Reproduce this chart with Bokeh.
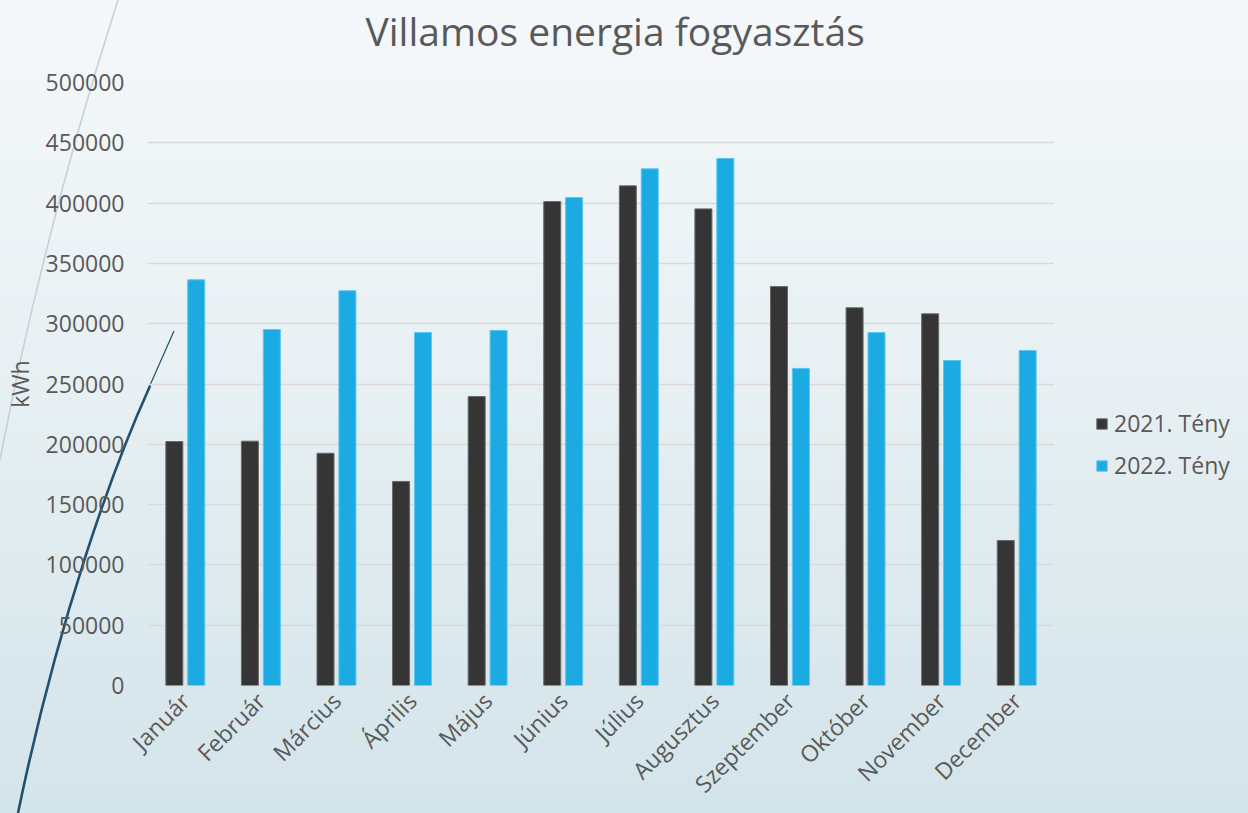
import math
import base64
from bokeh.plotting import figure
from bokeh.layouts import row
from bokeh.models import (ColumnDataSource, Range1d, FixedTicker, NumeralTickFormatter,
                          Legend, LegendItem, Title)
from bokeh.transform import dodge
from bokeh.embed import file_html
from bokeh.resources import INLINE

# ---- data ----
months = ["Január", "Február", "Március", "Április", "Május", "Június",
          "Július", "Augusztus", "Szeptember", "Október", "November", "December"]
teny_2021 = [202300, 202600, 192600, 169200, 239600, 401300,
             414300, 395200, 330800, 313200, 308200, 120200]
teny_2022 = [336400, 295200, 327300, 292700, 294400, 404600,
             428400, 437000, 262900, 292700, 269500, 277800]
series_names = ["2021. Tény", "2022. Tény"]
y_ticks = [0, 50000, 100000, 150000, 200000, 250000,
           300000, 350000, 400000, 450000, 500000]
title_text = "Villamos energia fogyasztás"
y_label = "kWh"

FONT = "Open Sans"
TXT = "#595959"
DARK = "#353535"
BLUE = "#1caae2"
DARK_EDGE = "#6a6a6a"
BLUE_EDGE = "#5ec5ee"
GRADIENT = "linear-gradient(to bottom, #f5f8fa 0%, #e8f0f3 45%, #d3e4ea 100%)"

src = ColumnDataSource(dict(month=months, a=teny_2021, b=teny_2022))

# ---------------- main chart ----------------
p = figure(width=1054, height=813, x_range=months, y_range=Range1d(0, 500000),
           output_backend="svg", toolbar_location=None,
           min_border_left=146, min_border_right=0,
           min_border_top=82, min_border_bottom=128)

# background: gradient + decorative theme curves (CSS on the plot host)
svg = ('<svg xmlns="http://www.w3.org/2000/svg" width="1054" height="813" viewBox="0 0 1054 813">'
       '<path d="M118,0 Q44,230 0,460" fill="none" stroke="#c3d2da" stroke-width="1.6"/>'
       '<path d="M174,331 L147,392" fill="none" stroke="#22506e" stroke-width="1.2"/>'
       '<path d="M150,386 C112,470 58,620 18,813" fill="none" stroke="#22506e" stroke-width="2.6"/>'
       '</svg>')
b64 = base64.b64encode(svg.encode()).decode()
p.styles = {"background": f'url("data:image/svg+xml;base64,{b64}") no-repeat, {GRADIENT}'}
p.background_fill_alpha = 0
p.border_fill_alpha = 0
p.outline_line_color = None

bar_a = dict(x=dodge("month", -0.145, range=p.x_range), top="a", width=0.225, source=src,
             fill_color=DARK, line_color=DARK_EDGE, line_width=1)
bar_b = dict(x=dodge("month", 0.145, range=p.x_range), top="b", width=0.225, source=src,
             fill_color=BLUE, line_color=BLUE_EDGE, line_width=1)
p.vbar(**bar_a)
p.vbar(**bar_b)

# spacer between title and plot area (blank title row, sits next to the frame)
p.add_layout(Title(text=" ", text_font_size="10px", standoff=11), "above")

# title (outermost in the top panel)
p.title.text = title_text
p.title.text_font = FONT
p.title.text_font_size = "39px"
p.title.text_font_style = "normal"
p.title.text_color = TXT
p.title.align = "left"
p.title.offset = 218
p.title.vertical_align = "top"
p.title.standoff = 0

# grid
p.xgrid.grid_line_color = None
p.ygrid.grid_line_color = "#d9d9d9"
p.ygrid.grid_line_width = 1.5
p.ygrid.ticker = FixedTicker(ticks=y_ticks)

# y axis
p.yaxis.ticker = FixedTicker(ticks=y_ticks)
p.yaxis.formatter = NumeralTickFormatter(format="0")
p.yaxis.axis_line_color = None
p.yaxis.major_tick_line_color = None
p.yaxis.minor_tick_line_color = None
p.yaxis.major_tick_out = 0
p.yaxis.major_tick_in = 0
p.yaxis.minor_tick_out = 0
p.yaxis.major_label_standoff = 23
p.yaxis.major_label_text_font = FONT
p.yaxis.major_label_text_font_size = "23px"
p.yaxis.major_label_text_color = TXT
p.yaxis.axis_label = y_label
p.yaxis.axis_label_text_font = FONT
p.yaxis.axis_label_text_font_size = "23px"
p.yaxis.axis_label_text_font_style = "normal"
p.yaxis.axis_label_text_color = TXT
p.yaxis.axis_label_standoff = 7

# x axis
p.xaxis.axis_line_color = None
p.xaxis.major_tick_line_color = None
p.xaxis.minor_tick_line_color = None
p.xaxis.major_tick_out = 0
p.xaxis.major_tick_in = 0
p.xaxis.minor_tick_out = 0
p.xaxis.major_label_orientation = math.pi / 4
p.xaxis.major_label_standoff = 11
p.xaxis.major_label_text_font = FONT
p.xaxis.major_label_text_font_size = "23px"
p.xaxis.major_label_text_color = TXT

# ---------------- legend panel (right strip) ----------------
q = figure(width=194, height=813, x_range=p.x_range, y_range=p.y_range,
           x_axis_type=None, y_axis_type=None,
           output_backend="svg", toolbar_location=None,
           min_border_left=0, min_border_right=0, min_border_top=0, min_border_bottom=0)
q.styles = {"background": GRADIENT}
q.background_fill_alpha = 0
q.border_fill_alpha = 0
q.outline_line_color = None
q.grid.visible = False

# same series, not drawn here: only used to paint the legend swatches
k1 = q.vbar(**bar_a, visible=False)
k2 = q.vbar(**bar_b, visible=False)

legend = Legend(items=[LegendItem(label=series_names[0], renderers=[k1]),
                       LegendItem(label=series_names[1], renderers=[k2])],
                location=(41, 204), orientation="vertical",
                padding=0, margin=0, spacing=10,
                glyph_width=13, glyph_height=13, label_height=26,
                label_standoff=6,
                label_text_font=FONT, label_text_font_size="23px",
                label_text_color=TXT, inactive_fill_alpha=0,
                background_fill_alpha=0, border_line_alpha=0)
q.add_layout(legend)

layout = row(p, q, spacing=0)

open("out.html", "w").write(file_html(layout, INLINE))
